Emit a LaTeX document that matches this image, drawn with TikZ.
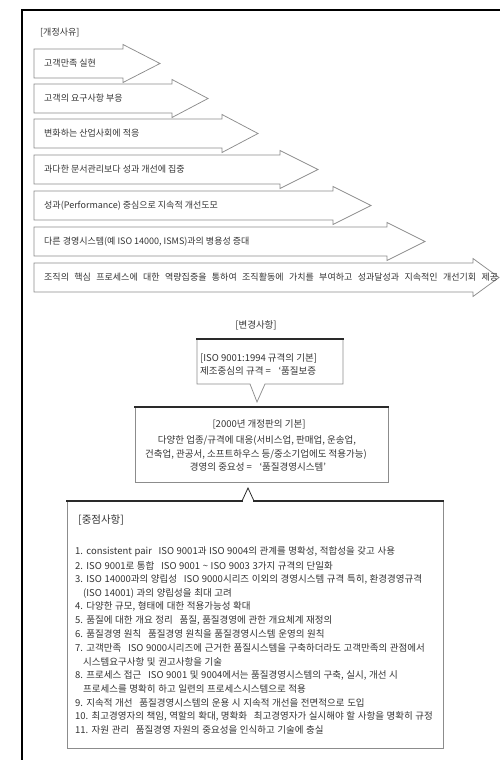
\documentclass[tikz,border=0pt]{standalone}
\usepackage{fontspec}
\setmainfont{Noto Sans CJK KR}
\definecolor{txtc}{HTML}{333333}
\definecolor{arrc}{HTML}{8C8C8C}
\definecolor{barc}{HTML}{2A2A2A}
\newcommand\mywidesp{\spaceskip=2.6pt plus 0.5pt\relax}
\newcommand\myvwidesp{\spaceskip=5.4pt plus 0.5pt\relax}
\begin{document}
\begin{tikzpicture}[x=1pt,y=-1pt,
  txt/.style={inner sep=0pt, text=txtc, font=\fontsize{9}{11}\selectfont},
  boxtxt/.style={inner sep=0pt, text=txtc, font=\fontsize{9.5}{11}\selectfont},
  listtxt/.style={inner sep=0pt, text=txtc, font=\fontsize{9.5}{11}\selectfont\mywidesp},
  head/.style={inner sep=0pt, text=txtc, font=\fontsize{9.5}{11}\selectfont},
  arrowshape/.style={draw=arrc, line width=0.75pt, line join=miter},
  topbar/.style={draw=barc, line width=2.3pt},
  side/.style={draw=arrc, line width=0.75pt},
  notch/.style={draw=barc, line width=0.8pt, line join=miter}]
\useasboundingbox (0,0) rectangle (500,760);
% frame
\draw[line width=1.2pt, black] (22,762) -- (22,10) -- (502,10);
% reasons
\node[txt, anchor=west] (reason) at (40,33) {[개정사유]};
\foreach \yt/\xh/\xt/\t [count=\i] in {
  49/123/160/{고객만족 실현},
  84/172/208/{고객의 요구사항 부응},
  119/222/258/{변화하는 산업사회에 적응},
  155/280/318/{과다한 문서관리보다 성과 개선에 집중},
  191/333/371/{성과(Performance) 중심으로 지속적 개선도모},
  227/387/425/{다른 경영시스템(예 ISO 14000, ISMS)과의 병용성 증대},
  263/473/499/{\myvwidesp 조직의 핵심 프로세스에 대한 역량집중을 통하여 조직활동에 가치를 부여하고 성과달성과 지속적인 개선기회 제공}}
{
  \draw[arrowshape] (34,\yt) -- (\xh,\yt) -- (\xh,\yt-4.5) -- (\xt,\yt+14.5)
     -- (\xh,\yt+33.5) -- (\xh,\yt+29) -- (34,\yt+29) -- cycle;
  \node[txt, anchor=west] (a\i) at (44,\yt+14.5) {\t};
}
% changes
\node[head, anchor=center] (change) at (256,325) {[변경사항]};
% box 1
\draw[side] (197,339) -- (197,384) -- (250,384) -- (257,402) -- (265,384) -- (343,384) -- (343,339);
\draw[topbar] (196,339) -- (344,339);
\node[boxtxt, anchor=west] (b1a) at (200,358) {[ISO 9001:1994 규격의 기본]};
\node[boxtxt, anchor=west] (b1b) at (200,371) {제조중심의 규격 =\hspace{0.8em}‘품질보증};
% box 2
\draw[side] (135,407) -- (135,482) -- (388,482) -- (388,407);
\draw[topbar] (134,407) -- (389,407);
\node[boxtxt] (b2a) at (259,424) {[2000년 개정판의 기본]};
\node[boxtxt] (b2b) at (257,440) {다양한 업종/규격에 대응(서비스업, 판매업, 운송업,};
\node[boxtxt] (b2c) at (256,454) {건축업, 관공서, 소프트하우스 등/중소기업에도 적용가능)};
\node[boxtxt] (b2d) at (258,467) {경영의 중요성 =\hspace{0.8em}‘품질경영시스템’};
% box 3
\draw[side] (67,501) -- (67,748) -- (443,748) -- (443,501);
\draw[topbar] (66,501) -- (243,501);
\draw[topbar] (253,501) -- (444,501);
\draw[notch] (242,501) -- (248,488) -- (254,501);
\node[head, font=\fontsize{10.5}{12}\selectfont, anchor=west] (key) at (78,520) {[중점사항]};
\foreach \t [count=\i] in {
  {1. consistent pair\hspace{0.7em}ISO 9001과 ISO 9004의 관계를 명확성, 적합성을 갖고 사용},
  {2. ISO 9001로 통합\hspace{0.7em}ISO 9001 \textasciitilde\ ISO 9003 3가지 규격의 단일화},
  {3. ISO 14000과의 양립성\hspace{0.7em}ISO 9000시리즈 이외의 경영시스템 규격 특히, 환경경영규격},
  {\hspace*{8pt}(ISO 14001) 과의 양립성을 최대 고려},
  {4. 다양한 규모, 형태에 대한 적용가능성 확대},
  {5. 품질에 대한 개요 정리\hspace{0.7em}품질, 품질경영에 관한 개요체계 재정의},
  {6. 품질경영 원칙\hspace{0.7em}품질경영 원칙을 품질경영시스템 운영의 원칙},
  {7. 고객만족\hspace{0.7em}ISO 9000시리즈에 근거한 품질시스템을 구축하더라도 고객만족의 관점에서},
  {\hspace*{8pt}시스템요구사항 및 권고사항을 기술},
  {8. 프로세스 접근\hspace{0.7em}ISO 9001 및 9004에서는 품질경영시스템의 구축, 실시, 개선 시},
  {\hspace*{8pt}프로세스를 명확히 하고 일련의 프로세스시스템으로 적용},
  {9. 지속적 개선\hspace{0.7em}품질경영시스템의 운용 시 지속적 개선을 전면적으로 도입},
  {10. 최고경영자의 책임, 역할의 확대, 명확화\hspace{0.7em}최고경영자가 실시해야 할 사항을 명확히 규정},
  {11. 자원 관리\hspace{0.7em}품질경영 자원의 중요성을 인식하고 기술에 충실}}
{
  \node[listtxt, anchor=west] (li\i) at (75,552+13.7*\i-13.7) {\t};
}
\end{tikzpicture}
\end{document}
